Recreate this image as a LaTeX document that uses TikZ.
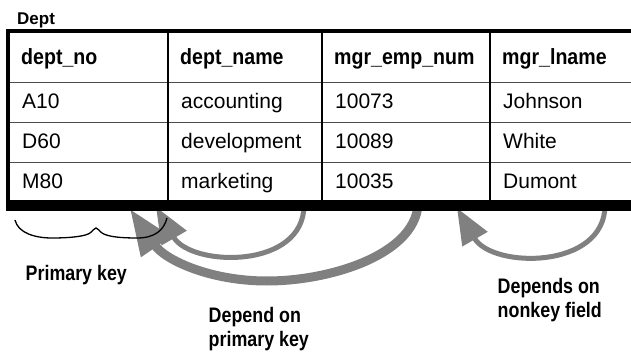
\documentclass[tikz,border=0pt]{standalone}
\usepackage{fontspec}
\setmainfont{Liberation Sans}
\newfontfamily\narrowfont{Liberation Sans}[FakeStretch=0.89]
\newfontfamily\labelfont{Liberation Sans}[FakeStretch=0.85]
\usetikzlibrary{arrows.meta}
\definecolor{arrowgray}{RGB}{128,128,128}
\tikzset{
  cell/.style={anchor=base west, inner sep=0pt, font=\fontsize{21}{24}\selectfont},
  headcell/.style={anchor=base west, inner sep=0pt, font=\narrowfont\bfseries\fontsize{22}{26}\selectfont},
  note/.style={anchor=base west, inner sep=0pt, align=left},
  notefont/.style={font=\labelfont\bfseries\fontsize{21}{23.5}\selectfont},
  deparrow/.style={draw=arrowgray, line width=5pt, -{Triangle[length=36pt,width=28pt]}},
  bigarrow/.style={draw=arrowgray, line width=9pt, -{Triangle[length=46pt,width=34pt]}},
  border/.style={fill=black},
  colrule/.style={line width=1.2pt, black},
  rowrule/.style={line width=1.2pt, black!70},
  brace/.style={line width=1.3pt, black},
}
\begin{document}
\begin{tikzpicture}[x=1pt, y=1pt]
\useasboundingbox (0,0) rectangle (631,-355);

% end points of the dependency arrows (sources sit under the bottom rule)
\coordinate (nameSrc)  at (304,-205);
\coordinate (noTipA)   at (156,-207);
\coordinate (empSrc)   at (418,-205);
\coordinate (noTipB)   at (130,-209);
\coordinate (lnameSrc) at (605,-205);
\coordinate (empTip)   at (457,-208);

% dependency arrows
\draw[bigarrow] (empSrc) .. controls (414,-255) and (330,-281) .. (267,-281)
                 .. controls (210,-281) and (165,-260) .. (noTipB);
\draw[deparrow] (nameSrc) .. controls (304,-270) and (191,-267) .. (noTipA);
\draw[deparrow] (lnameSrc) .. controls (605,-270) and (492,-268.6) .. (empTip);

% table grid
\draw[rowrule] (10,-82.5) -- (631,-82.5);
\draw[rowrule] (10,-122.5) -- (631,-122.5);
\draw[rowrule] (10,-162.5) -- (631,-162.5);
\draw[colrule] (168,-33) -- (168,-200);
\draw[colrule] (322,-33) -- (322,-200);
\draw[colrule] (490,-33) -- (490,-200);

% heavy outer rules
\fill[border] (6,-29) rectangle (631,-33);
\fill[border] (6,-29) rectangle (10,-211);
\fill[border] (6,-200) rectangle (631,-211);

% table title
\node[anchor=base west, inner sep=0pt, font=\bfseries\fontsize{17}{20}\selectfont] (title) at (17,-25) {Dept};

% header row
\node[headcell] (h1) at (21,-65) {dept\_no};
\node[headcell] (h2) at (180,-65) {dept\_name};
\node[headcell] (h3) at (334,-65) {mgr\_emp\_num};
\node[headcell] (h4) at (502,-65) {mgr\_lname};

% data rows
\node[cell] (a1) at (22,-108.5) {A10};
\node[cell] (a2) at (181,-108.5) {accounting};
\node[cell] (a3) at (335,-108.5) {10073};
\node[cell] (a4) at (503,-108.5) {Johnson};
\node[cell] (b1) at (22,-149) {D60};
\node[cell] (b2) at (181,-149) {development};
\node[cell] (b3) at (335,-149) {10089};
\node[cell] (b4) at (503,-149) {White};
\node[cell] (c1) at (22,-188.5) {M80};
\node[cell] (c2) at (181,-188.5) {marketing};
\node[cell] (c3) at (335,-188.5) {10035};
\node[cell] (c4) at (503,-188.5) {Dumont};

% brace under the key column
\draw[brace] (15,-220) .. controls (18,-233) and (35,-238) .. (52,-238)
  .. controls (72,-238) and (86,-236) .. (90,-233)
  .. controls (93,-231) and (94,-228) .. (96,-228)
  .. controls (98,-228) and (99,-231) .. (102,-233)
  .. controls (108,-237) and (122,-238) .. (137,-238)
  .. controls (155,-238) and (164,-230) .. (167,-218);

% annotations (multi-line nodes are placed by the baseline of their last line)
\node[note, notefont] (pk) at (25.5,-280) {Primary key};
\node[note, notefont] (dpk) at (208.5,-346) {Depend on\\primary key};
\node[note, notefont] (dnk) at (497.5,-317) {Depends on\\nonkey field};
\end{tikzpicture}
\end{document}
